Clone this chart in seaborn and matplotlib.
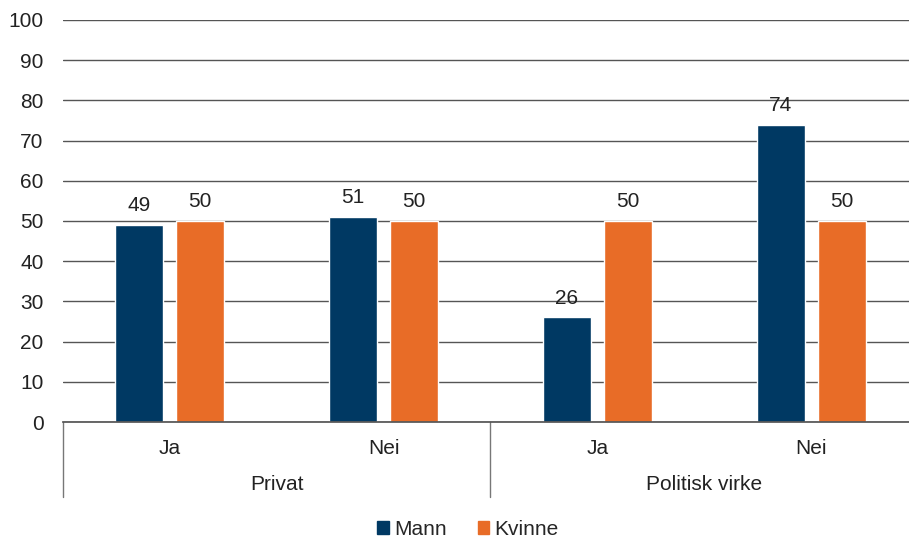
import pandas as pd
import matplotlib.pyplot as plt
import matplotlib.transforms as mtransforms
from matplotlib.patches import Patch
import seaborn as sns

# Data
grupper = ["Privat", "Privat", "Politisk virke", "Politisk virke"]
svar = ["Ja", "Nei", "Ja", "Nei"]
mann = [49, 51, 26, 74]
kvinne = [50, 50, 50, 50]
farger = {"Mann": "#003963", "Kvinne": "#E86C27"}

keys = [f"{g} {s}" for g, s in zip(grupper, svar)]
df = pd.DataFrame({
    "kat": keys * 2,
    "kjonn": ["Mann"] * 4 + ["Kvinne"] * 4,
    "verdi": mann + kvinne,
})

sns.set_theme(style="white")
plt.rcParams['font.family'] = ['Liberation Sans', 'DejaVu Sans']
fs = 15

fig = plt.figure(figsize=(9.09, 5.4), dpi=100)
# axes runs past the right edge, like the original
ax = fig.add_axes([0.0693, 0.2185, 0.9406, 0.7445])

sns.barplot(data=df, x="kat", y="verdi", hue="kjonn", order=keys,
            hue_order=["Mann", "Kvinne"], palette=farger, width=0.57, gap=0.21,
            ax=ax, legend=False, saturation=1, errorbar=None)

ax.set_ylim(0, 100)
ax.set_xlim(-0.5, 3.5)
ax.set_yticks(range(0, 101, 10))
ax.grid(axis="y", color="#555555", linewidth=1)
ax.set_axisbelow(True)
for s in ["left", "right", "top"]:
    ax.spines[s].set_visible(False)
ax.spines["bottom"].set_color("#555555")
ax.tick_params(axis="y", length=0, labelsize=fs, pad=14, colors="#222222")
ax.tick_params(axis="x", length=0, labelsize=fs, pad=12.5, colors="#222222")
ax.set_xticks(range(4))
ax.set_xticklabels(svar)
ax.set_xlabel("")
ax.set_ylabel("")

# Value labels
for cont in ax.containers:
    ax.bar_label(cont, padding=7, fontsize=fs, color="#222222")

# Group labels and separators
trans = mtransforms.blended_transform_factory(ax.transData, ax.transAxes)
for i, g in enumerate(["Privat", "Politisk virke"]):
    ax.text(2 * i + 0.5, -0.155, g, transform=trans, ha="center", va="center",
            fontsize=fs, color="#222222")
for xv in [-0.5, 1.5]:
    ax.plot([xv, xv], [0, -0.187], transform=trans, color="#777777",
            linewidth=1, clip_on=False)

handles = [Patch(color=farger[k], label=k) for k in ["Mann", "Kvinne"]]
fig.legend(handles=handles, loc="center", bbox_to_anchor=(0.515, 0.02), ncol=2,
           frameon=False, fontsize=fs, handlelength=0.55, handleheight=0.55,
           handletextpad=0.25, columnspacing=1.5)

plt.savefig("out.png", dpi=100)
